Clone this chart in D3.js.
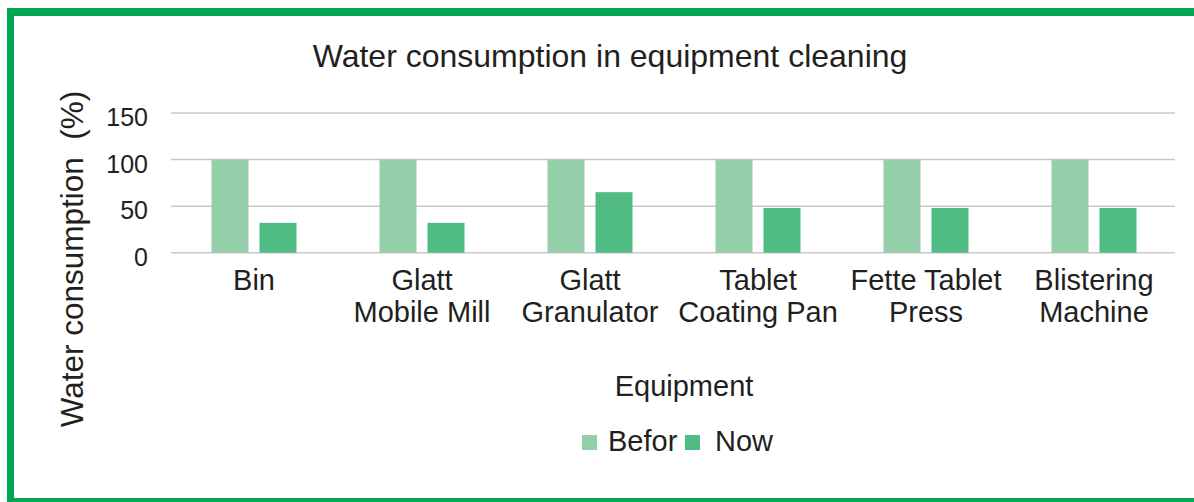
<!doctype html>
<html lang="en">
<head>
    <meta charset="utf-8">
    <title>Water consumption in equipment cleaning</title>
    <script src="https://d3js.org/d3.v7.min.js"></script>
    <style>
        html, body { margin: 0; padding: 0; background: #fff; }
        svg text {
            fill: #231f20;
            font-family: "Liberation Sans", Arial, Helvetica, sans-serif;
        }
    </style>
</head>
<body>
    <div id="chart"></div>

    <script>
        // Chart data
        var categories = [
            ["Bin"],
            ["Glatt", "Mobile Mill"],
            ["Glatt", "Granulator"],
            ["Tablet", "Coating Pan"],
            ["Fette Tablet", "Press"],
            ["Blistering", "Machine"]
        ];
        var seriesNames = ["Befor", "Now"];
        var beforValues = [100, 100, 100, 100, 100, 100];
        var nowValues   = [32, 32, 65, 48, 48, 48];
        var yTicks      = [0, 50, 100, 150];

        var colors = { "Befor": "#93cfa8", "Now": "#50bc84" };

        // Canvas size
        var width  = 1194;
        var height = 502;

        var svg = d3.select("#chart")
            .append("svg")
            .attr("width", width)
            .attr("height", height);

        // Green frame (top, left, bottom; no right side)
        var frame = "#00a651";
        svg.append("rect").attr("x", 7).attr("y", 8).attr("width", width - 7).attr("height", 8).attr("fill", frame);
        svg.append("rect").attr("x", 7).attr("y", 8).attr("width", 7).attr("height", height - 8).attr("fill", frame);
        svg.append("rect").attr("x", 7).attr("y", 498).attr("width", width - 7).attr("height", 4).attr("fill", frame);

        // Scales
        var x0 = d3.scaleBand()
            .domain(d3.range(categories.length))
            .range([170, 1178]);

        var groupWidth = 85;
        var x1 = d3.scaleBand()
            .domain(seriesNames)
            .range([0, groupWidth])
            .paddingInner(0.229);

        var y = d3.scaleLinear()
            .domain([0, 150])
            .range([252.7, 113]);

        // Gridlines
        svg.append("g")
            .selectAll("line")
            .data(yTicks)
            .enter()
            .append("line")
            .attr("x1", 171)
            .attr("x2", 1175)
            .attr("y1", function(d) { return y(d); })
            .attr("y2", function(d) { return y(d); })
            .attr("stroke", "#c8c8c8")
            .attr("stroke-width", 1.5);

        // Y tick labels
        svg.append("g")
            .selectAll("text")
            .data(yTicks)
            .enter()
            .append("text")
            .attr("x", 148)
            .attr("y", function(d) { return y(d) + 13; })
            .attr("text-anchor", "end")
            .style("font-size", "25px")
            .text(function(d) { return d; });

        // Bars
        var rows = categories.map(function(c, i) {
            return [
                { key: "Befor", value: beforValues[i] },
                { key: "Now",   value: nowValues[i] }
            ];
        });

        var group = svg.append("g")
            .selectAll("g")
            .data(rows)
            .enter()
            .append("g")
            .attr("transform", function(d, i) {
                return "translate(" + (x0(i) + x0.bandwidth() / 2 - groupWidth / 2) + ",0)";
            });

        group.selectAll("rect")
            .data(function(d) { return d; })
            .enter()
            .append("rect")
            .attr("x", function(d) { return x1(d.key); })
            .attr("width", x1.bandwidth())
            .attr("y", function(d) { return y(d.value); })
            .attr("height", function(d) { return y(0) - y(d.value); })
            .attr("fill", function(d) { return colors[d.key]; });

        // Category labels (two lines)
        var catLabel = svg.append("g")
            .selectAll("text")
            .data(categories)
            .enter()
            .append("text")
            .attr("text-anchor", "middle")
            .style("font-size", "29px")
            .attr("transform", function(d, i) {
                return "translate(" + (x0(i) + x0.bandwidth() / 2) + ",289.5)";
            });

        catLabel.selectAll("tspan")
            .data(function(d) { return d; })
            .enter()
            .append("tspan")
            .attr("x", 0)
            .attr("y", function(d, i) { return i * 32.4; })
            .text(function(d) { return d; });

        // Title
        svg.append("text")
            .attr("x", 610)
            .attr("y", 67)
            .attr("text-anchor", "middle")
            .style("font-size", "32px")
            .text("Water consumption in equipment cleaning");

        // Axis titles
        svg.append("text")
            .attr("x", 684)
            .attr("y", 396)
            .attr("text-anchor", "middle")
            .style("font-size", "29px")
            .text("Equipment");

        svg.append("text")
            .attr("transform", "translate(83,259) rotate(-90)")
            .attr("text-anchor", "middle")
            .style("font-size", "31.5px")
            .style("white-space", "pre")
            .text("Water consumption  (%)");

        // Legend
        var legendX = [582, 685];
        var legend = svg.append("g")
            .selectAll("g")
            .data(seriesNames)
            .enter()
            .append("g")
            .attr("transform", function(d, i) { return "translate(" + legendX[i] + ",435)"; });

        legend.append("rect")
            .attr("width", 15)
            .attr("height", 15)
            .attr("fill", function(d) { return colors[d]; });

        legend.append("text")
            .attr("x", function(d, i) { return i === 0 ? 26 : 30; })
            .attr("y", 16)
            .style("font-size", "29px")
            .text(function(d) { return d; });
    </script>
</body>
</html>
